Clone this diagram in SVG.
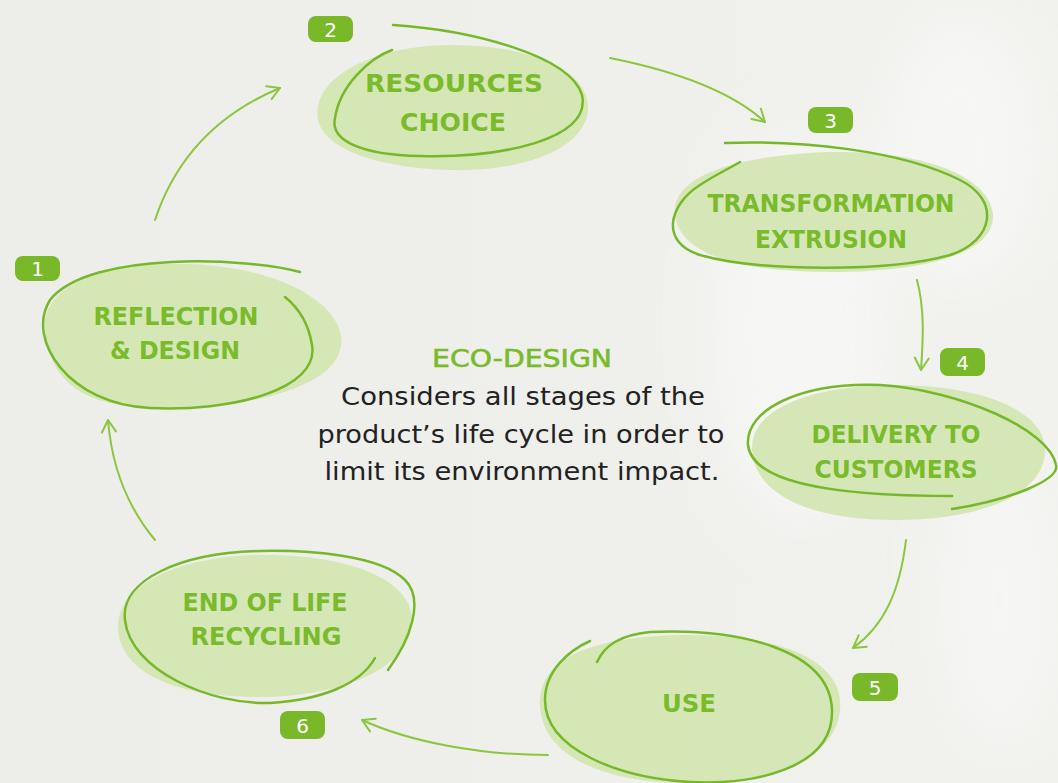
<svg xmlns="http://www.w3.org/2000/svg" width="1058" height="783" viewBox="0 0 1058 783">
  <defs>
    <linearGradient id="bg" x1="0" y1="0" x2="1" y2="0">
      <stop offset="0" stop-color="#ededea"/>
      <stop offset="0.6" stop-color="#efefec"/>
      <stop offset="1" stop-color="#f1f1ee"/>
    </linearGradient>
    <filter id="blur" x="-50%" y="-50%" width="200%" height="200%">
      <feGaussianBlur stdDeviation="30"/>
    </filter>
    <marker id="head" viewBox="-14 -10 18 20" markerWidth="18" markerHeight="20" refX="0" refY="0" orient="auto" markerUnits="userSpaceOnUse">
      <path d="M-12,-7 L0,0 L-12,7" fill="none" stroke="#8cc63f" stroke-width="2" stroke-linecap="round" stroke-linejoin="round"/>
    </marker>
    <style>
      .fill { fill: #d3e5b0; opacity: 0.9; }
      .outline { fill: none; stroke: #77b82a; stroke-width: 2.5; stroke-linecap: round; }
      .label { font-family: "DejaVu Sans", "Liberation Sans", sans-serif; font-weight: bold; font-size: 25px; fill: #79bb2b; text-anchor: middle; }
      .badge rect { fill: #79b829; }
      .badge text { font-family: "DejaVu Sans", sans-serif; font-size: 20px; fill: #ffffff; text-anchor: middle; }
      .conn path { fill: none; stroke: #8cc63f; stroke-width: 2; stroke-linecap: round; marker-end: url(#head); }
      .body { font-family: "DejaVu Sans", "Liberation Sans", sans-serif; font-size: 25px; fill: #222222; text-anchor: middle; }
    </style>
  </defs>

  <rect width="1058" height="783" fill="url(#bg)"/>
  <g filter="url(#blur)" opacity="0.8">
    <ellipse cx="800" cy="330" rx="90" ry="200" fill="#f8f8f6"/>
    <ellipse cx="960" cy="150" rx="80" ry="140" fill="#f8f8f6"/>
    <ellipse cx="1000" cy="600" rx="60" ry="150" fill="#f7f7f5"/>
  </g>

  <g id="connectors" class="conn">
    <path d="M155,220 C175,160 215,115 280,88"/>
    <path d="M610,58 C670,70 730,90 765,122"/>
    <path d="M917,280 C925,310 923,340 921,370"/>
    <path d="M906,540 C900,590 885,625 853,648"/>
    <path d="M548,755 C480,755 410,742 362,720"/>
    <path d="M155,540 C130,510 112,470 108,420"/>
  </g>

  <g id="node1">
    <path class="fill" d="M45,330 C40,270 150,255 230,268 C310,280 350,320 340,350 C330,390 240,410 150,408 C80,405 50,380 45,330Z"/>
    <path class="outline" d="M300,272 C250,258 90,250 50,300 C25,340 70,405 150,408 C230,412 320,390 312,345 C308,320 295,305 285,297"/>
    <text class="label" x="176" y="325" textLength="165" lengthAdjust="spacingAndGlyphs">REFLECTION</text>
    <text class="label" x="175" y="359" textLength="130" lengthAdjust="spacingAndGlyphs">&amp; DESIGN</text>
    <g class="badge"><rect x="15" y="256" width="45" height="25" rx="8"/><text x="37.5" y="276">1</text></g>
  </g>

  <g id="node2">
    <path class="fill" d="M318,120 C310,75 380,45 450,45 C530,45 590,70 588,110 C585,150 520,172 450,170 C380,168 325,150 318,120Z"/>
    <path class="outline" d="M393,25 C470,30 570,55 582,95 C592,140 500,158 420,156 C360,155 330,140 335,118 C340,85 370,58 392,50"/>
    <text class="label" x="454" y="92" textLength="178" lengthAdjust="spacingAndGlyphs">RESOURCES</text>
    <text class="label" x="453" y="131" textLength="106" lengthAdjust="spacingAndGlyphs">CHOICE</text>
    <g class="badge"><rect x="308" y="16" width="45" height="26" rx="8"/><text x="330.5" y="37">2</text></g>
  </g>

  <g id="node3">
    <path class="fill" d="M675,215 C670,175 740,155 830,152 C920,150 990,175 993,215 C995,255 920,272 830,272 C740,272 680,255 675,215Z"/>
    <path class="outline" d="M725,143 C800,140 900,150 960,180 C1000,200 995,240 950,255 C890,272 760,272 700,255 C660,243 668,205 700,185 C715,175 730,168 740,162"/>
    <text class="label" x="831" y="212" textLength="247" lengthAdjust="spacingAndGlyphs">TRANSFORMATION</text>
    <text class="label" x="831" y="248" textLength="152" lengthAdjust="spacingAndGlyphs">EXTRUSION</text>
    <g class="badge"><rect x="808" y="107" width="45" height="26" rx="8"/><text x="830.5" y="128">3</text></g>
  </g>

  <g id="node4">
    <path class="fill" d="M752,450 C750,405 820,385 895,385 C980,385 1045,410 1045,450 C1045,495 980,520 895,520 C810,520 755,495 752,450Z"/>
    <path class="outline" d="M952,509 C1010,500 1060,480 1056,465 C1050,430 960,390 880,385 C800,382 745,410 748,445 C752,480 820,496 952,496"/>
    <text class="label" x="896" y="443" textLength="169" lengthAdjust="spacingAndGlyphs">DELIVERY TO</text>
    <text class="label" x="896" y="478" textLength="163" lengthAdjust="spacingAndGlyphs">CUSTOMERS</text>
    <g class="badge"><rect x="940" y="348" width="45" height="28" rx="8"/><text x="962.5" y="370">4</text></g>
  </g>

  <g id="node5">
    <path class="fill" d="M540,705 C538,655 600,635 690,635 C790,635 845,665 840,710 C835,760 770,783 690,783 C600,783 542,755 540,705Z"/>
    <path class="outline" d="M597,662 C605,645 620,635 650,632 C740,628 830,650 832,710 C834,770 750,785 690,782 C620,778 545,750 545,700 C545,670 570,650 590,641"/>
    <text class="label" x="689" y="712" textLength="54" lengthAdjust="spacingAndGlyphs">USE</text>
    <g class="badge"><rect x="852" y="673" width="46" height="28" rx="8"/><text x="875" y="695">5</text></g>
  </g>

  <g id="node6">
    <path class="fill" d="M118,630 C115,585 180,555 265,555 C350,555 412,580 412,620 C412,665 350,695 265,697 C180,698 122,675 118,630Z"/>
    <path class="outline" d="M388,670 C410,640 425,600 405,580 C380,555 310,550 260,551 C180,553 120,580 125,620 C130,670 210,705 270,703 C320,700 360,685 375,658"/>
    <text class="label" x="265" y="611" textLength="165" lengthAdjust="spacingAndGlyphs">END OF LIFE</text>
    <text class="label" x="266" y="645" textLength="151" lengthAdjust="spacingAndGlyphs">RECYCLING</text>
    <g class="badge"><rect x="280" y="711" width="45" height="28" rx="8"/><text x="302.5" y="733">6</text></g>
  </g>

  <g id="center">
    <text class="label" x="522" y="367" textLength="180" lengthAdjust="spacingAndGlyphs" style="font-weight:normal;stroke:#79bb2b;stroke-width:0.6">ECO-DESIGN</text>
    <text class="body" x="523" y="405" textLength="364" lengthAdjust="spacingAndGlyphs">Considers all stages of the</text>
    <text class="body" x="521" y="443" textLength="407" lengthAdjust="spacingAndGlyphs">product’s life cycle in order to</text>
    <text class="body" x="522" y="480" textLength="395" lengthAdjust="spacingAndGlyphs">limit its environment impact.</text>
  </g>
</svg>
